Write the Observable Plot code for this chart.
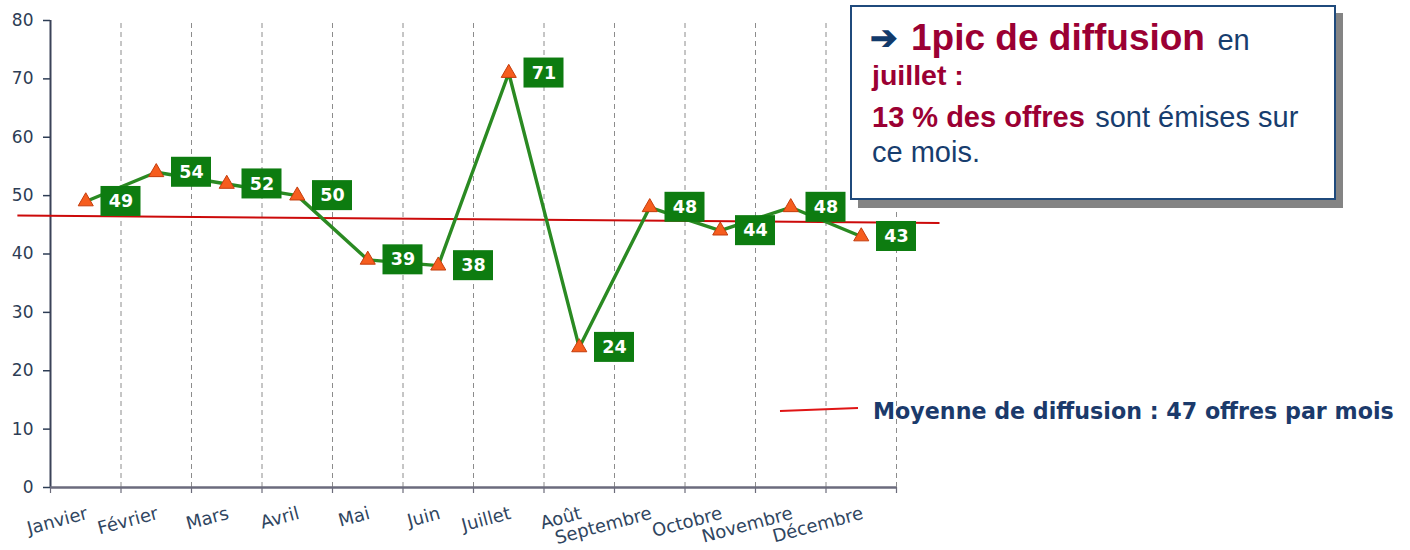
<!DOCTYPE html>
<html>
<head>
<meta charset="utf-8">
<script src="https://cdn.jsdelivr.net/npm/d3@7"></script>
<script src="https://cdn.jsdelivr.net/npm/@observablehq/plot@0.6"></script>
<style>
  html, body { margin: 0; padding: 0; background: #ffffff; }
  #wrap { position: relative; width: 1410px; height: 550px; overflow: hidden; }
  #chart { position: absolute; left: 0; top: 0; }
  #overlay { position: absolute; left: 0; top: 0; pointer-events: none; }
</style>
</head>
<body>
<div id="wrap">
  <div id="chart"></div>
  <svg id="overlay" width="1410" height="550">
    <!-- annotation box with shadow -->
    <rect x="858" y="13" width="485" height="195" fill="#848484"/>
    <rect x="851" y="6" width="484" height="193" fill="#ffffff" stroke="#1f4a7c" stroke-width="2"/>
    <text font-family="Liberation Sans, Arial, sans-serif">
      <tspan x="870" y="49" font-size="33" font-weight="bold" fill="#123a6b">➔</tspan>
      <tspan x="911" y="50" font-size="37" font-weight="bold" fill="#9b0033">1pic de diffusion</tspan>
      <tspan dx="8" font-size="29" fill="#173d6e">en</tspan>
      <tspan x="872" y="85" font-size="28.5" font-weight="bold" fill="#9b0033">juillet :</tspan>
      <tspan x="872" y="127" font-size="29" font-weight="bold" fill="#9b0033">13 % des offres</tspan>
      <tspan dx="6" font-size="29" fill="#173d6e">sont émises sur</tspan>
      <tspan x="872" y="162" font-size="29" fill="#173d6e">ce mois.</tspan>
    </text>
    <!-- legend -->
    <line x1="780" y1="411" x2="858" y2="408" stroke="#e01515" stroke-width="2"/>
    <text x="873" y="419" font-family="DejaVu Sans, sans-serif" font-size="22.2" font-weight="bold" fill="#1b3a6b">Moyenne de diffusion : 47 offres par mois</text>
  </svg>
</div>
<script>
// ---- data ----
const months = ["Janvier", "Février", "Mars", "Avril", "Mai", "Juin", "Juillet", "Août", "Septembre", "Octobre", "Novembre", "Décembre"];
const offers = [49, 54, 52, 50, 39, 38, 71, 24, 48, 44, 48, 43];
const yTicks = [0, 10, 20, 30, 40, 50, 60, 70, 80];
// average reference line as drawn (slightly tilted in the source), in data units
const averageValue = 47;
const averageLineStart = { x: -0.47, y: 46.6 };
const averageLineEnd = { x: 12.61, y: 45.3 };

const data = months.map((m, i) => ({ month: m, idx: i, value: offers[i] }));
const boundaries = d3.range(1, months.length + 1);

const green = "#0d7c10";
const lineGreen = "#2a8a22";
const labelFont = "DejaVu Sans, sans-serif";

const chart = Plot.plot({
  width: 1410,
  height: 550,
  marginLeft: 50,
  marginRight: 514,
  marginTop: 20,
  marginBottom: 63,
  style: { background: "transparent", fontFamily: labelFont },
  x: { domain: [0, months.length], axis: null },
  y: { domain: [0, 80], axis: null },
  marks: [
    // dashed vertical gridlines at category boundaries
    Plot.ruleX(boundaries, { y1: 0, y2: 80, stroke: "#8c8c8c", strokeWidth: 1, strokeDasharray: "5,4" }),
    // x axis ticks (no labels)
    Plot.axisX(d3.range(0, months.length + 1), { tickFormat: () => "", tickSize: 6, stroke: "#6b6b7a", strokeWidth: 1.2, label: null }),
    // y axis ticks
    Plot.axisY(yTicks, { tickFormat: () => "", tickSize: 7, stroke: "#2d3d55", strokeWidth: 1.5, label: null }),
    // y tick labels
    Plot.text(yTicks, {
      x: 0, y: d => d, text: d => String(d), dx: -17, textAnchor: "end",
      fontSize: 17, fill: "#2d3d55", fontFamily: labelFont
    }),
    Plot.ruleX([0], { y1: 0, y2: 80, stroke: "#3b4258", strokeWidth: 2 }),
    Plot.ruleY([0], { stroke: "#6b6b7d", strokeWidth: 2.5 }),
    // average line
    Plot.link([{ s: averageLineStart, e: averageLineEnd, v: averageValue }], {
      x1: d => d.s.x, y1: d => d.s.y, x2: d => d.e.x, y2: d => d.e.y,
      stroke: "#cc0a0a", strokeWidth: 2, clip: false
    }),
    // series line
    Plot.line(data, { x: d => d.idx + 0.5, y: "value", stroke: lineGreen, strokeWidth: 3.4 }),
    // triangles
    Plot.dot(data, { x: d => d.idx + 0.5, y: "value", symbol: "triangle", r: 5.6, fill: "#f65d1e", stroke: "#c43c0c", strokeWidth: 1 }),
    // value label boxes
    Plot.rect(data, {
      x1: d => d.idx + 1, x2: d => d.idx + 1, y1: "value", y2: "value",
      insetLeft: -20, insetRight: -20, insetTop: -15, insetBottom: -15,
      fill: green
    }),
    Plot.text(data, {
      x: d => d.idx + 1, y: "value", text: d => String(d.value),
      fill: "#ffffff", fontSize: 17.5, fontWeight: "bold", fontFamily: labelFont
    }),
    // month labels
    Plot.text(data, {
      x: d => d.idx + 0.5, y: 0, text: "month",
      rotate: -15, textAnchor: "end", lineAnchor: "bottom",
      dx: 3, dy: 31, fontSize: 18, fill: "#2f4560", fontFamily: labelFont
    })
  ]
});

document.getElementById("chart").appendChild(chart);
</script>
</body>
</html>
